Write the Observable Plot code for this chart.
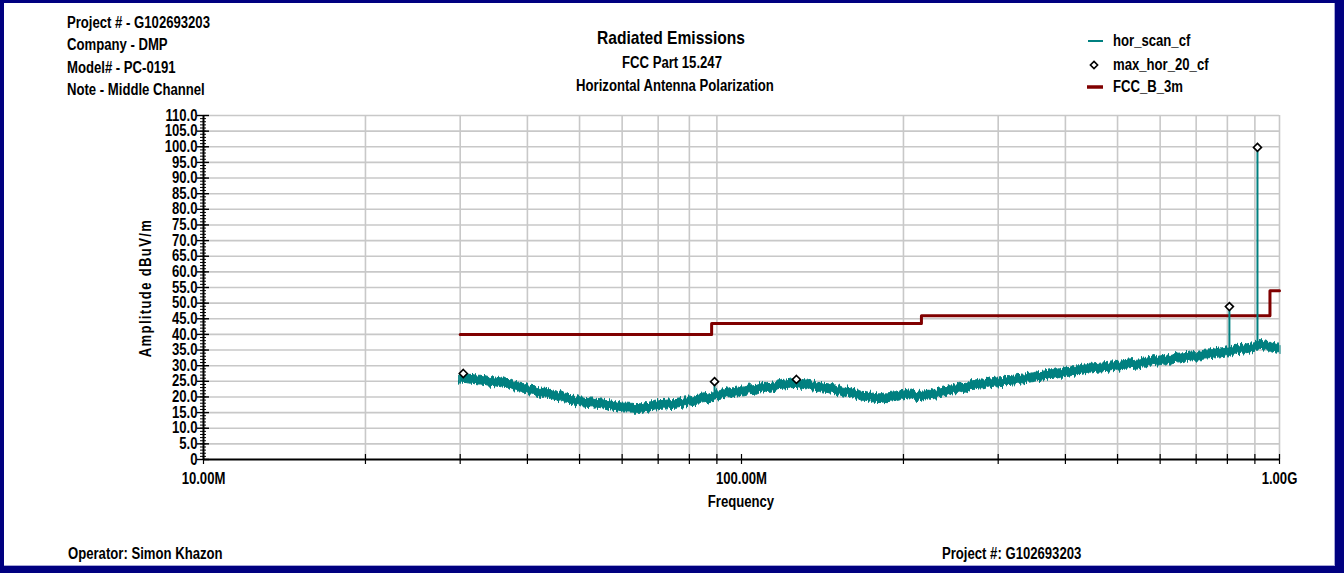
<!DOCTYPE html>
<html>
<head>
<meta charset="utf-8">
<script src="https://cdn.jsdelivr.net/npm/d3@7"></script>
<script src="https://cdn.jsdelivr.net/npm/@observablehq/plot@0.6"></script>
<style>
  html, body { margin: 0; padding: 0; background: #000080; }
  #page { position: relative; width: 1344px; height: 573px; background: #000080; overflow: hidden;
          font-family: "Liberation Sans", Arial, sans-serif; font-weight: bold; color: #000; }
  #sheet { position: absolute; left: 4px; top: 3px; width: 1330px; height: 562px; background: #fff;
           border-right: 1px solid #a8a8d8; border-bottom: 1px solid #a8a8d8; }
  .lbl { position: absolute; white-space: nowrap; line-height: 1; }
  #chart { position: absolute; left: 0; top: 0; }
  #chart svg { display: block; }
</style>
</head>
<body>
<div id="page">
  <div id="sheet"></div>
  <div id="chart"></div>
</div>
<script>
// ---- Header / footer text ----
const infoLines = ["Project # - G102693203", "Company - DMP", "Model# - PC-0191", "Note - Middle Channel"];
const titleLines = ["Radiated Emissions", "FCC Part 15.247", "Horizontal Antenna Polarization"];
const footerLeft = "Operator: Simon Khazon";
const footerRight = "Project #: G102693203";
const xTitle = "Frequency";
const yTitle = "Amplitude dBuV/m";

// ---- Legend ----
const seriesNames = ["hor_scan_cf", "max_hor_20_cf", "FCC_B_3m"];

// ---- Axis ticks (frequency in MHz) ----
const xMajorTicks = [10, 100, 1000];
const xMajorLabels = ["10.00M", "100.00M", "1.00G"];
const xMinorTicks = [20, 30, 40, 50, 60, 70, 80, 90, 200, 300, 400, 500, 600, 700, 800, 900];
const yMajorTicks = [0, 5, 10, 15, 20, 25, 30, 35, 40, 45, 50, 55, 60, 65, 70, 75, 80, 85, 90, 95, 100, 105, 110];
const yMinorTicks = d3.range(0, 111, 1);

// ---- hor_scan_cf: swept trace, lower / upper edge of the noise band (dBuV/m) ----
const scanFreq = [30, 33, 36, 40, 45, 50, 55, 60, 65, 70, 75, 80, 85, 90, 95, 100, 110, 120, 126, 135, 150, 165, 180, 195, 205, 215, 225, 250, 275, 300, 350, 400, 450, 500, 550, 600, 650, 700, 750, 800, 850, 900, 930, 960, 1000];
const scanLow  = [24.6, 23.9, 23.1, 21.1, 19.1, 17.1, 16.4, 15.1, 14.9, 15.8, 16.2, 16.9, 17.9, 18.9, 19.6, 20.4, 21.4, 22.4, 22.9, 22.2, 20.8, 19.1, 18.0, 18.8, 19.6, 18.8, 19.2, 21.1, 22.6, 23.4, 24.8, 26.4, 27.6, 28.4, 29.2, 30.1, 31.0, 31.6, 32.2, 33.0, 33.8, 34.4, 35.4, 34.6, 33.6];
const scanHigh = [27.4, 26.7, 25.9, 23.9, 21.9, 19.9, 19.2, 17.9, 17.7, 18.6, 19.0, 19.7, 20.7, 21.7, 22.4, 23.2, 24.2, 25.2, 25.7, 25.0, 23.6, 21.9, 20.8, 21.6, 22.4, 21.6, 22.0, 23.9, 25.4, 26.2, 27.6, 29.2, 30.4, 31.2, 32.0, 32.9, 33.8, 34.4, 35.0, 35.8, 36.6, 37.2, 38.2, 37.4, 36.4];

// narrow emissions rising out of the trace
const spikeFreq = [89.1, 807, 910];
const spikeBase = [20.5, 34.5, 37.5];
const spikeTop  = [24.9, 48.9, 99.8];

// ---- max_hor_20_cf: peak markers ----
const peakFreq  = [30.4, 89.1, 126.5, 807, 910];
const peakLevel = [27.5, 24.9, 25.6, 48.9, 99.8];

// ---- FCC_B_3m limit line ----
const limitFreq  = [30, 88, 216, 960, 1000];
const limitLevel = [40.0, 43.5, 46.0, 54.0, 54.0];

const TEAL = "#008080";
const MAROON = "#800000";
const GRID = "#c8c8c8";
const NARROW = 0.82; // horizontal squeeze for the condensed lettering

const scanRows = scanFreq.map((f, i) => ({f, lo: scanLow[i], hi: scanHigh[i]}));
const spikeRows = spikeFreq.map((f, i) => ({f, lo: spikeBase[i], hi: spikeTop[i]}));
const peakRows = peakFreq.map((f, i) => ({f, v: peakLevel[i]}));
const limitRows = limitFreq.map((f, i) => ({f, v: limitLevel[i]}));

const chart = Plot.plot({
  width: 1344,
  height: 573,
  marginLeft: 203,
  marginRight: 65,
  marginTop: 115,
  marginBottom: 114,
  x: {type: "log", domain: [10, 1000]},
  y: {domain: [0, 110]},
  style: {background: "transparent", fontFamily: "'Liberation Sans', Arial, sans-serif", fontWeight: "bold", fontSize: "16px", color: "#000"},
  marks: [
    // grid
    Plot.ruleX(xMinorTicks.concat([1000]), {stroke: GRID, strokeWidth: 1.6}),
    Plot.ruleY(yMajorTicks.filter(d => d > 0), {stroke: GRID, strokeWidth: 1.6}),
    // limit line
    Plot.line(limitRows, {x: "f", y: "v", curve: "step-after", stroke: MAROON, strokeWidth: 3}),
    // swept trace
    Plot.areaY(scanRows, {x: "f", y1: "lo", y2: "hi", fill: TEAL, stroke: TEAL, strokeWidth: 1}),
    Plot.ruleX(spikeRows, {x: "f", y1: "lo", y2: "hi", stroke: TEAL, strokeWidth: 2}),
    // peak markers
    Plot.dot(peakRows, {x: "f", y: "v", symbol: "diamond2", r: 3.6, stroke: "#000", strokeWidth: 1.6, fill: "#fff"}),
    // axis lines
    Plot.ruleY([0], {stroke: "#000", strokeWidth: 2}),
    Plot.ruleX([10], {stroke: "#000", strokeWidth: 2}),
    // x ticks crossing the axis
    Plot.ruleX(xMinorTicks.concat(xMajorTicks), {x: d => d, y1: 0, y2: 0, insetTop: -5, insetBottom: -5, stroke: "#000", strokeWidth: 1.2}),
    // y ticks crossing the axis
    Plot.ruleY(yMinorTicks, {y: d => d, x1: 10, x2: 10, insetLeft: -3, insetRight: -3, stroke: "#000", strokeWidth: 1}),
    Plot.ruleY(yMajorTicks, {y: d => d, x1: 10, x2: 10, insetLeft: -6, insetRight: -6, stroke: "#000", strokeWidth: 1.4}),
    // tick labels
    Plot.axisY(yMajorTicks, {tickSize: 0, tickPadding: 6, label: null, tickFormat: d => d === 0 ? "0" : d.toFixed(1)}),
    Plot.axisX(xMajorTicks, {tickSize: 0, tickPadding: 13, label: null, tickFormat: d => xMajorLabels[xMajorTicks.indexOf(d)]})
  ]
});

// squeeze the tick lettering horizontally around each label's anchor
chart.querySelectorAll("text").forEach(t => {
  const tr = t.getAttribute("transform");
  if (tr) {
    t.setAttribute("transform", tr + ` scale(${NARROW},1)`);
  } else {
    const x = +t.getAttribute("x") || 0, y = +t.getAttribute("y") || 0;
    t.removeAttribute("x"); t.removeAttribute("y");
    t.setAttribute("transform", `translate(${x},${y}) scale(${NARROW},1)`);
  }
});

// ragged edge of the swept noise floor
const defs = document.createElementNS("http://www.w3.org/2000/svg", "defs");
defs.innerHTML = `<filter id="noisefloor" x="-1%" y="-30%" width="102%" height="160%">
  <feTurbulence type="fractalNoise" baseFrequency="0.6 0.004" numOctaves="2" seed="7" result="n"/>
  <feDisplacementMap in="SourceGraphic" in2="n" scale="8" xChannelSelector="B" yChannelSelector="R"/>
</filter>`;
chart.insertBefore(defs, chart.firstChild);
const areaG = chart.querySelector('g[aria-label="area"]');
if (areaG) areaG.setAttribute("filter", "url(#noisefloor)");

document.getElementById("chart").appendChild(chart);

// ---- HTML labels ----
const page = document.getElementById("page");
function label(text, x, y, {size = 16, anchor = "start", spacing = 0} = {}) {
  const el = document.createElement("div");
  el.className = "lbl";
  el.textContent = text;
  el.style.left = x + "px";
  el.style.top = y + "px";
  el.style.fontSize = size + "px";
  if (spacing) el.style.letterSpacing = spacing + "px";
  const tx = anchor === "middle" ? "-50%" : anchor === "end" ? "-100%" : "0";
  el.style.transformOrigin = anchor === "middle" ? "center" : anchor === "end" ? "right center" : "left center";
  el.style.transform = `translate(${tx}, -50%) scaleX(${NARROW})`;
  page.appendChild(el);
  return el;
}
infoLines.forEach((t, i) => label(t, 67, 23 + i * 22.4));
label(titleLines[0], 671, 36.5, {size: 19, anchor: "middle"});
label(titleLines[1], 672, 62.5, {size: 16, anchor: "middle"});
label(titleLines[2], 675, 85.5, {size: 16, anchor: "middle"});
label(xTitle, 741, 502, {anchor: "middle"});
label(footerLeft, 68, 554);
label(footerRight, 942, 554);
const yt = label(yTitle, 146, 288, {anchor: "middle", spacing: 1.6});
yt.style.transformOrigin = "center";
yt.style.transform = `translate(-50%, -50%) rotate(-90deg) scaleX(${NARROW})`;

// legend
const legendY = [41, 64.5, 87];
seriesNames.forEach((name, i) => {
  label(name, 1113, legendY[i]);
  const sw = document.createElementNS("http://www.w3.org/2000/svg", "svg");
  sw.setAttribute("width", 20); sw.setAttribute("height", 12);
  sw.style.position = "absolute"; sw.style.left = "1085px"; sw.style.top = (legendY[i] - 6) + "px";
  if (i === 0) sw.innerHTML = `<line x1="3" x2="18" y1="6" y2="6" stroke="${TEAL}" stroke-width="2"/>`;
  if (i === 1) sw.innerHTML = `<path d="M9,2.4L12.6,6L9,9.6L5.4,6Z" fill="#fff" stroke="#000" stroke-width="1.6"/>`;
  if (i === 2) sw.innerHTML = `<line x1="2" x2="18" y1="6" y2="6" stroke="${MAROON}" stroke-width="3.5"/>`;
  page.appendChild(sw);
});
</script>
</body>
</html>
